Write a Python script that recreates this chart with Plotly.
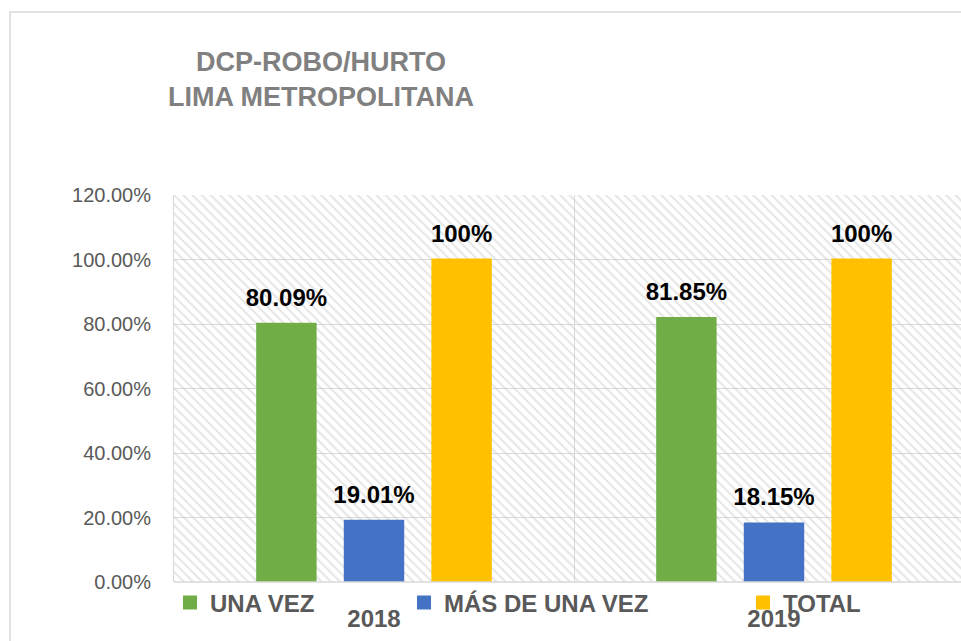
import plotly.graph_objects as go

years = ["2018", "2019"]
series_names = ["UNA VEZ", "MÁS DE UNA VEZ", "TOTAL"]
una_vez = [0.8009, 0.8185]
mas_de_una_vez = [0.1901, 0.1815]
total = [1.00, 1.00]
colors = ["#70AD47", "#4472C4", "#FFC000"]
y_max = 1.2
y_ticks = [0, 0.2, 0.4, 0.6, 0.8, 1.0, 1.2]

FONT = "Liberation Sans, Arial, sans-serif"
GRAY = "#595959"

# body margin is removed below, so figure coords = screen coords
L, T, B = 174, 195, 59
PW = 961 - L  # plot width in px
PH = 641 - T - B


def fmt(v):
    s = f"{v * 100:.2f}"
    if s.endswith(".00"):
        s = s[:-3]
    return s + "%"


fig = go.Figure()

# hatched plot-area background (base subplot)
fig.add_trace(go.Bar(
    x=years, y=[y_max] * len(years), width=1,
    marker=dict(color="rgba(0,0,0,0)", line=dict(width=0),
                pattern=dict(shape="\\", size=6.5, solidity=0.32,
                             fgcolor="#cccccc", bgcolor="rgba(0,0,0,0)",
                             fillmode="overlay")),
    hoverinfo="skip", showlegend=False, xaxis="x", yaxis="y",
))

legend_ids = ["legend", "legend2", "legend3"]
for name, vals, col, lg in zip(series_names, [una_vez, mas_de_una_vez, total], colors, legend_ids):
    fig.add_trace(go.Bar(
        name=name, x=years, y=vals,
        marker=dict(color=col, line=dict(color=col, width=2)),
        text=[fmt(v) for v in vals],
        textposition="outside", constraintext="none",
        texttemplate="<span style='font-size:24px'>%{text}</span><br> ",
        textfont=dict(family=FONT, size=10, color="#000000", weight="bold"),
        cliponaxis=False,
        xaxis="x2", yaxis="y2", legend=lg,
    ))

axis_common = dict(range=[-0.5, -0.5 + PW / 400], type="category")
fig.update_layout(
    width=961, height=641,
    margin=dict(l=L, r=0, t=T, b=B),
    paper_bgcolor="white", plot_bgcolor="white",
    barmode="group", bargap=0.343, bargroupgap=0.333,
    modebar=dict(bgcolor="rgba(0,0,0,0)", color="rgba(0,0,0,0)",
                 activecolor="rgba(0,0,0,0)"),
    title=dict(
        text="DCP-ROBO/HURTO<br>LIMA METROPOLITANA",
        font=dict(family=FONT, size=27, color="#808080", weight="bold"),
        x=321 / 961, xref="container", xanchor="center",
        y=1 - 71 / 641, yref="container", yanchor="middle",
    ),
    xaxis=dict(
        **axis_common, showgrid=True, gridcolor="#d9d9d9", gridwidth=1,
        tickson="boundaries", ticks="", showline=False, zeroline=False,
        tickfont=dict(family=FONT, size=24, color=GRAY, weight="bold"),
        ticklabelstandoff=20,
    ),
    yaxis=dict(
        range=[0, y_max], tickvals=y_ticks, tickformat=".2%",
        showgrid=True, gridcolor="#d9d9d9", gridwidth=1, zeroline=False,
        showline=True, linecolor="#d9d9d9", linewidth=1, mirror=False,
        ticks="", tickfont=dict(family=FONT, size=20, color=GRAY),
        ticklabelstandoff=18,
    ),
    xaxis2=dict(**axis_common, overlaying="x", matches="x", visible=False),
    yaxis2=dict(range=[0, y_max], overlaying="y", matches="y", visible=False),
)

leg_common = dict(orientation="h", yanchor="middle", y=-21 / PH,
                  xanchor="left", bgcolor="rgba(0,0,0,0)", borderwidth=0,
                  font=dict(family=FONT, size=24, color=GRAY, weight="bold"))
fig.update_layout(
    legend=dict(**leg_common, x=-4 / PW),
    legend2=dict(**leg_common, x=230 / PW),
    legend3=dict(**leg_common, x=569 / PW),
)

# bottom axis line and outer chart border
fig.add_shape(type="line", xref="paper", yref="paper", x0=0, x1=1, y0=0, y1=0,
              line=dict(color="#d9d9d9", width=1.5), layer="above")
fig.add_shape(type="rect", xref="paper", yref="paper",
              x0=(10 - L) / PW, x1=(990 - L) / PW,
              y0=(PH + T - 700) / PH, y1=(PH + T - 12) / PH,
              line=dict(color="#d9d9d9", width=1.5), layer="below")

fig.write_html(
    "out.html",
    config={"displaylogo": False},
    post_script="document.documentElement.style.overflow='hidden';"
                "document.body.style.overflow='hidden';"
                "document.body.style.margin='0';",
)
